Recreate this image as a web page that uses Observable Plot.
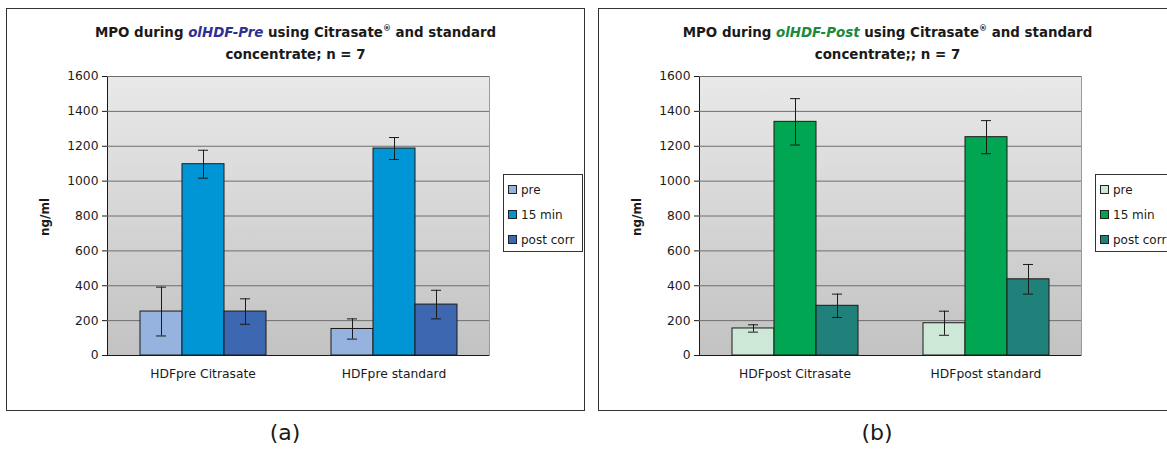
<!DOCTYPE html>
<html><head><meta charset="utf-8">
<script src="https://cdn.jsdelivr.net/npm/d3@7"></script>
<script src="https://cdn.jsdelivr.net/npm/@observablehq/plot@0.6"></script>
<style>
body{margin:0;background:#fff;font-family:"DejaVu Sans",sans-serif;color:#1a1a1a;}
#root{position:relative;width:1167px;height:453px;overflow:hidden;background:#fff;}
.panel{position:absolute;top:8px;height:403px;border:1.6px solid #333;box-sizing:border-box;}
.title{position:absolute;top:22px;width:577px;text-align:center;font-weight:bold;font-size:13.4px;line-height:22px;}
.title sup{font-size:8px;line-height:0;position:relative;top:-1px;}
.ylab{position:absolute;font-weight:bold;font-size:12px;transform:rotate(-90deg);transform-origin:center;width:60px;text-align:center;}
.legend{position:absolute;top:174px;width:80px;height:78px;border:1px solid #333;box-sizing:border-box;background:#fff;font-size:12px;}
.legend .it{position:absolute;left:4px;height:14px;line-height:14px;white-space:nowrap;}
.legend .sw{display:inline-block;width:7px;height:7px;border:1px solid #222;margin-right:4px;vertical-align:0px;}
.sub{position:absolute;top:420px;font-size:22px;width:60px;text-align:center;}
</style></head>
<body><div id="root"></div>
<script>
// ---- data ----
const series = ["pre", "15 min", "post corr"];
const yTicks = [0, 200, 400, 600, 800, 1000, 1200, 1400, 1600];

const catsA = ["HDFpre Citrasate", "HDFpre standard"];
const preA = [252, 152];
const min15A = [1097, 1187];
const postA = [252, 292];
const preErrA = [140, 58];
const min15ErrA = [80, 63];
const postErrA = [73, 82];
const colorsA = ["#95B3DE", "#0096D6", "#3D67B1"];

const catsB = ["HDFpost Citrasate", "HDFpost standard"];
const preB = [155, 185];
const min15B = [1340, 1252];
const postB = [285, 437];
const preErrB = [21, 69];
const min15ErrB = [133, 95];
const postErrB = [67, 85];
const colorsB = ["#CDE8D6", "#00A651", "#20817B"];

const root = document.getElementById("root");
const ns = "http://www.w3.org/2000/svg";

function el(tag, cls, html, style) {
  const e = document.createElement(tag);
  if (cls) e.className = cls;
  if (html != null) e.innerHTML = html;
  if (style) Object.assign(e.style, style);
  root.appendChild(e);
  return e;
}

function panel(ox, cats, means, errs, colors, tag, titleHtml, sub) {
  el("div", "panel", null, {left: (ox - 1) + "px", width: "579px"});
  el("div", "title", titleHtml, {left: ox + "px"});
  el("div", "ylab", "ng/ml", {left: (ox + 8) + "px", top: "210px"});

  const data = [];
  cats.forEach((c, i) => series.forEach((s, j) => data.push({cat: c, series: s, v: means[j][i], e: errs[j][i]})));

  const svg = Plot.plot({
    width: 577, height: 401,
    marginLeft: 100, marginRight: 95, marginTop: 67, marginBottom: 55,
    style: {fontFamily: "DejaVu Sans", fontSize: "12.3px", color: "#1a1a1a", background: "transparent", overflow: "visible"},
    fx: {domain: cats, padding: 0, axis: "bottom", tickSize: 0, tickPadding: 14, label: null},
    x: {domain: series, paddingInner: 0, paddingOuter: 0.75, axis: null},
    y: {domain: [0, 1600], ticks: yTicks, tickFormat: d => String(d), tickSize: 5, tickPadding: 4, line: true, label: null},
    color: {domain: series, range: colors},
    marks: [
      Plot.frame({fill: `url(#bg-${tag})`, stroke: null, shapeRendering: "crispEdges"}),
      Plot.gridY(yTicks, {stroke: "#6e6e6e", strokeOpacity: 1, strokeWidth: 1}),
      Plot.frame({anchor: "right", facetAnchor: "right", stroke: "#9a9a9a"}),
      Plot.barY(data, {fx: "cat", x: "series", y: "v", fill: "series", stroke: "#1a1a1a", strokeWidth: 1}),
      Plot.ruleX(data, {fx: "cat", x: "series", y1: d => d.v - d.e, y2: d => d.v + d.e, stroke: "#1a1a1a", strokeWidth: 1}),
      Plot.tickY(data, {fx: "cat", x: "series", y: d => d.v - d.e, stroke: "#1a1a1a", insetLeft: 16, insetRight: 16}),
      Plot.tickY(data, {fx: "cat", x: "series", y: d => d.v + d.e, stroke: "#1a1a1a", insetLeft: 16, insetRight: 16}),
      Plot.ruleY([0], {stroke: "#1a1a1a", strokeWidth: 1.2})
    ]
  });
  const defs = document.createElementNS(ns, "defs");
  const lg = document.createElementNS(ns, "linearGradient");
  lg.setAttribute("id", "bg-" + tag);
  lg.setAttribute("x1", "0"); lg.setAttribute("y1", "0");
  lg.setAttribute("x2", "0"); lg.setAttribute("y2", "1");
  [["0", "#E9E9EA"], ["1", "#C2C2C2"]].forEach(([o, c]) => {
    const s = document.createElementNS(ns, "stop");
    s.setAttribute("offset", o); s.setAttribute("stop-color", c);
    lg.appendChild(s);
  });
  defs.appendChild(lg);
  svg.insertBefore(defs, svg.firstChild);
  svg.style.position = "absolute";
  svg.style.left = ox + "px";
  svg.style.top = "9px";
  root.appendChild(svg);

  const leg = el("div", "legend", null, {left: (ox + 496) + "px"});
  series.forEach((s, j) => {
    const it = document.createElement("div");
    it.className = "it";
    it.style.top = (8 + j * 25) + "px";
    it.innerHTML = `<span class="sw" style="background:${colors[j]}"></span>${s}`;
    leg.appendChild(it);
  });
  el("div", "sub", sub, {left: (ox + 278 - 30) + "px"});
}

panel(7, catsA, [preA, min15A, postA], [preErrA, min15ErrA, postErrA], colorsA, "a",
  'MPO during <i style="color:#2E3192">olHDF-Pre</i> using Citrasate<sup>®</sup> and standard<br>concentrate; n = 7', "(a)");
panel(599, catsB, [preB, min15B, postB], [preErrB, min15ErrB, postErrB], colorsB, "b",
  'MPO during <i style="color:#1B8A3C">olHDF-Post</i> using Citrasate<sup>®</sup> and standard<br>concentrate;; n = 7', "(b)");
</script>
</body></html>
